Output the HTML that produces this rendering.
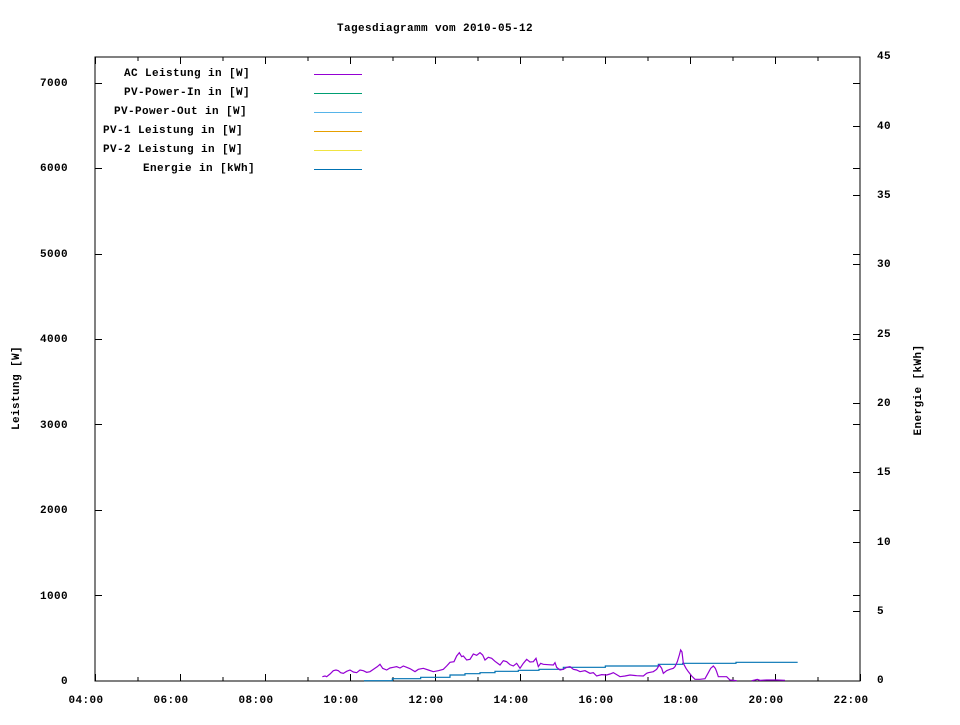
<!DOCTYPE html>
<html><head><meta charset="utf-8"><style>
html,body{margin:0;padding:0;background:#fff;}
svg text{font-family:"Liberation Mono","DejaVu Sans Mono",monospace;font-weight:bold;font-size:11px;letter-spacing:0.4px;fill:#000;}
</style></head><body>
<svg width="960" height="720" viewBox="0 0 960 720" xmlns="http://www.w3.org/2000/svg">
<rect width="960" height="720" fill="#fff"/>
<text x="435" y="31" text-anchor="middle">Tagesdiagramm vom 2010-05-12</text>
<g stroke="#000" stroke-width="1" fill="none" shape-rendering="crispEdges">
<rect x="95" y="57" width="765" height="624"/>
<path d="M95.5 681v-7M180.5 681v-7M265.5 681v-7M350.5 681v-7M435.5 681v-7M520.5 681v-7M605.5 681v-7M690.5 681v-7M775.5 681v-7M860.5 681v-7
M95.5 57v7M180.5 57v7M265.5 57v7M350.5 57v7M435.5 57v7M520.5 57v7M605.5 57v7M690.5 57v7M775.5 57v7
M138 681v-4M223 681v-4M308 681v-4M393 681v-4M478 681v-4M563 681v-4M648 681v-4M733 681v-4M818 681v-4
M138 57v4M223 57v4M308 57v4M393 57v4M478 57v4M563 57v4M648 57v4M733 57v4M818 57v4"/>
<path d="M95 595.5h7M95 510.5h7M95 424.5h7M95 339.5h7M95 254.5h7M95 168.5h7M95 83.5h7
M860 595.5h-7M860 510.5h-7M860 424.5h-7M860 339.5h-7M860 254.5h-7M860 168.5h-7M860 83.5h-7"/>
<path d="M860 611.5h-7M860 542.5h-7M860 472.5h-7M860 403.5h-7M860 334.5h-7M860 264.5h-7M860 195.5h-7M860 126.5h-7"/>
</g>
<g text-anchor="end">
<text x="68" y="684">0</text><text x="68" y="599">1000</text><text x="68" y="513">2000</text>
<text x="68" y="428">3000</text><text x="68" y="342">4000</text><text x="68" y="257">5000</text>
<text x="68" y="171">6000</text><text x="68" y="86">7000</text>
</g>
<g text-anchor="start">
<text x="877" y="683">0</text><text x="877" y="614">5</text><text x="877" y="545">10</text>
<text x="877" y="475">15</text><text x="877" y="406">20</text><text x="877" y="337">25</text>
<text x="877" y="267">30</text><text x="877" y="198">35</text><text x="877" y="129">40</text>
<text x="877" y="59">45</text>
</g>
<g text-anchor="middle">
<text x="86" y="703">04:00</text><text x="171" y="703">06:00</text><text x="256" y="703">08:00</text>
<text x="341" y="703">10:00</text><text x="426" y="703">12:00</text><text x="511" y="703">14:00</text>
<text x="596" y="703">16:00</text><text x="681" y="703">18:00</text><text x="766" y="703">20:00</text>
<text x="851" y="703">22:00</text>
</g>
<text transform="translate(19,388) rotate(-90)" text-anchor="middle">Leistung [W]</text>
<text transform="translate(921,390) rotate(-90)" text-anchor="middle">Energie [kWh]</text>
<g text-anchor="end">
<text x="250" y="76">AC Leistung in [W]</text>
<text x="250" y="95">PV-Power-In in [W]</text>
<text x="247" y="114">PV-Power-Out in [W]</text>
<text x="243" y="133">PV-1 Leistung in [W]</text>
<text x="243" y="152">PV-2 Leistung in [W]</text>
<text x="255" y="171">Energie in [kWh]</text>
</g>
<g stroke-width="1" shape-rendering="crispEdges">
<path d="M314 74.5h48" stroke="#9400d3"/>
<path d="M314 93.5h48" stroke="#009e73"/>
<path d="M314 112.5h48" stroke="#56b4e9"/>
<path d="M314 131.5h48" stroke="#e69f00"/>
<path d="M314 150.5h48" stroke="#f0e442"/>
<path d="M314 169.5h48" stroke="#0072b2"/>
</g>
<g transform="translate(300,630) scale(0.33333)" fill="none">
<polyline vector-effect="non-scaling-stroke" stroke="#0072b2" stroke-width="1.2" points="192,152 277,152 277,146 362,146 362,142 450,142 450,135 495,135 495,131 540,131 540,128 585,128 585,124 655,124 655,121 717,121 717,118 790,118 790,112 916,112 916,108 1075,108 1075,103 1148,103 1148,100 1308,100 1308,97 1493,97"/>
<polyline vector-effect="non-scaling-stroke" stroke="#9400d3" stroke-width="1.2" points="67,140 75,138 80,140 90,132 100,122 108,120 115,122 122,128 130,130 140,124 150,120 160,126 170,128 180,120 190,122 200,127 210,125 220,118 232,110 240,103 248,115 260,120 270,114 280,112 290,110 300,114 310,108 320,112 330,116 345,125 355,118 370,115 385,120 400,125 415,122 430,118 440,108 450,97 462,95 470,78 478,68 485,80 490,78 500,90 510,88 520,72 530,76 540,68 548,75 555,90 565,82 575,85 585,94 600,105 610,92 620,95 630,104 640,108 650,100 660,115 670,100 680,88 690,96 700,95 708,85 715,110 722,100 730,103 745,104 760,105 765,98 770,112 780,120 790,118 800,112 810,110 820,118 830,120 840,125 855,122 870,130 880,128 890,138 905,134 920,135 930,132 940,128 950,134 960,140 975,138 990,135 1010,137 1030,138 1040,130 1045,128 1060,125 1070,118 1078,105 1085,115 1090,130 1100,122 1110,118 1120,115 1125,110 1132,95 1138,75 1142,60 1146,66 1150,100 1158,115 1165,125 1175,138 1185,148 1200,148 1215,146 1225,128 1232,115 1240,108 1246,115 1250,125 1255,140 1270,140 1280,140 1290,150 1310,152"/>
<polyline vector-effect="non-scaling-stroke" stroke="#9400d3" stroke-width="1.2" points="1355,152 1365,150 1372,148 1380,151 1400,150 1430,150 1455,151"/>
</g>
</svg>
</body></html>
